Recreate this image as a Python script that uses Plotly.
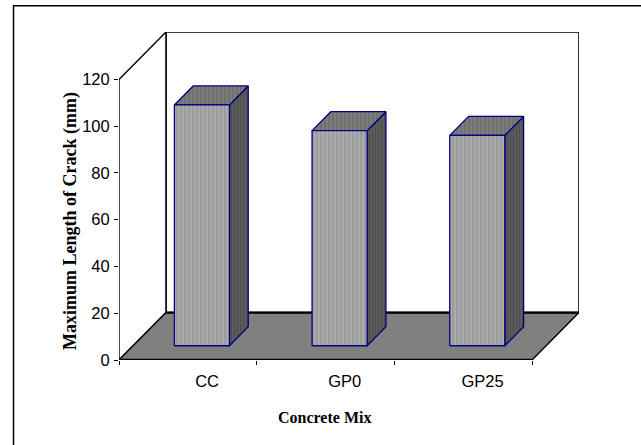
import plotly.graph_objects as go

# Data
mixes = ["CC", "GP0", "GP25"]
max_crack_mm = [103, 92, 90]
y_ticks = [0, 20, 40, 60, 80, 100, 120]

# 3-D look: one unit of depth moves a point right/up by (DX, DY) in data units
Y_MAX = 120
DX = 0.341
DY = 20.28
BAR_W = 0.4          # bar width in category units
D0, D1 = 0.3, 0.7    # front / back depth of the bars
X0, X1 = -0.5, len(mixes) - 0.5

NAVY = "#000080"

fig = go.Figure()


def poly(xs, ys, fill=None, line_color="black", line_width=1.5, pattern=None):
    kw = dict(
        x=list(xs) + [xs[0]], y=list(ys) + [ys[0]], mode="lines",
        fill="toself", fillcolor=fill or "rgba(0,0,0,0)",
        line=dict(color=line_color, width=line_width),
        hoverinfo="skip", showlegend=False,
    )
    if pattern:
        kw["fillpattern"] = pattern
    fig.add_trace(go.Scatter(**kw))


# Back wall
poly([X0 + DX, X1 + DX, X1 + DX, X0 + DX],
     [DY, DY, Y_MAX + DY, Y_MAX + DY], fill="white", line_width=1.6)
# Side wall (left), its front edge is the value axis
poly([X0, X0 + DX, X0 + DX, X0],
     [0, DY, Y_MAX + DY, Y_MAX], fill="white", line_width=1.4)
# Floor
poly([X0, X1, X1 + DX, X0 + DX], [0, 0, DY, DY], fill="#808080", line_width=1.4)
# Heavier front and back floor edges
fig.add_trace(go.Scatter(x=[X0, X1], y=[0, 0], mode="lines",
                         line=dict(color="black", width=2.6),
                         hoverinfo="skip", showlegend=False, cliponaxis=False))
fig.add_trace(go.Scatter(x=[X0 + DX, X1 + DX], y=[DY, DY], mode="lines",
                         line=dict(color="black", width=2.2),
                         hoverinfo="skip", showlegend=False))

front_pat = dict(shape="|", bgcolor="#ABABAB", fgcolor="#858585", size=4, solidity=0.4)
top_pat = dict(shape="|", bgcolor="#7C7C7C", fgcolor="#5E5E5E", size=4, solidity=0.4)
side_pat = dict(shape="|", bgcolor="#5C5C5C", fgcolor="#3E3E3E", size=3, solidity=0.4)

for i, v in enumerate(max_crack_mm):
    xl, xr = i - BAR_W / 2, i + BAR_W / 2
    # right face
    poly([xr + D0 * DX, xr + D1 * DX, xr + D1 * DX, xr + D0 * DX],
         [D0 * DY, D1 * DY, v + D1 * DY, v + D0 * DY],
         fill="#5C5C5C", line_color=NAVY, line_width=1.3, pattern=side_pat)
    # top face
    poly([xl + D0 * DX, xr + D0 * DX, xr + D1 * DX, xl + D1 * DX],
         [v + D0 * DY, v + D0 * DY, v + D1 * DY, v + D1 * DY],
         fill="#7C7C7C", line_color=NAVY, line_width=1.3, pattern=top_pat)
    # front face
    poly([xl + D0 * DX, xr + D0 * DX, xr + D0 * DX, xl + D0 * DX],
         [D0 * DY, D0 * DY, v + D0 * DY, v + D0 * DY],
         fill="#ABABAB", line_color=NAVY, line_width=1.3, pattern=front_pat)

tick_font = dict(family="Liberation Sans Narrow, Liberation Sans, Arial, sans-serif",
                 size=16.5, color="black")

fig.update_layout(
    width=641, height=445,
    margin=dict(l=119, r=62, t=32, b=85),
    paper_bgcolor="white", plot_bgcolor="white",
    showlegend=False,
    xaxis=dict(
        range=[X0, X1 + DX], showgrid=False, zeroline=False, showline=False,
        tickvals=[i + 0.14 for i in range(len(mixes))], ticktext=mixes,
        ticks="", tickfont=tick_font, ticklabelstandoff=9,
        minor=dict(tickvals=[X0 + k for k in range(len(mixes) + 1)],
                   ticks="outside", ticklen=4, tickcolor="black", tickwidth=1,
                   showgrid=False),
    ),
    yaxis=dict(
        range=[0, Y_MAX + DY], showgrid=False, zeroline=False, showline=False,
        tickvals=y_ticks, ticks="outside", ticklen=4, tickcolor="black",
        tickwidth=1, tickfont=tick_font, ticklabelstandoff=1,
    ),
    annotations=[
        dict(text="<b>Maximum Length of Crack (mm)</b>", textangle=-90,
             xref="paper", yref="paper", x=-0.1043, y=0.4238,
             showarrow=False, xanchor="center", yanchor="middle",
             font=dict(family="Liberation Serif, Times New Roman, serif",
                       size=18, color="black")),
        dict(text="<b>Concrete Mix</b>",
             xref="paper", yref="paper", x=0.4478, y=-0.1768,
             showarrow=False, xanchor="center", yanchor="middle",
             font=dict(family="Liberation Serif, Times New Roman, serif",
                       size=16, color="black")),
    ],
    shapes=[
        # chart frame (left and top edges fall inside the page)
        dict(type="rect", xref="paper", yref="paper",
             x0=-0.2293, x1=1.5, y0=-0.6, y1=1.0802,
             line=dict(color="black", width=1.5), fillcolor="rgba(0,0,0,0)",
             layer="below"),
    ],
)

fig.write_html("out.html")
